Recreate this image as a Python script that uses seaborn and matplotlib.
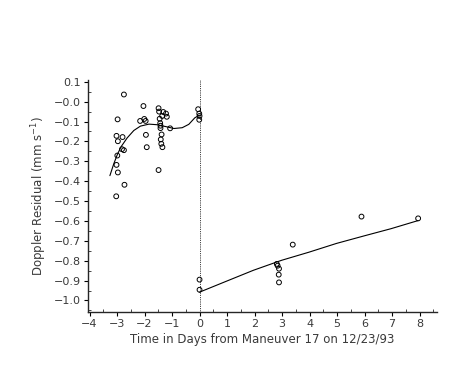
import numpy as np
import pandas as pd
import seaborn as sns
import matplotlib.pyplot as plt
from matplotlib.ticker import MultipleLocator

# residuals before the maneuver
pre_days = [-2.75, -2.98, -3.02, -2.97, -2.80, -2.82, -2.75, -2.99, -3.02, -2.97,
            -2.73, -3.03, -2.04, -2.16, -2.01, -1.96, -1.95, -1.92, -1.49, -1.47,
            -1.32, -1.22, -1.19, -1.36, -1.45, -1.43, -1.42, -1.42, -1.38, -1.41,
            -1.39, -1.35, -1.49, -1.07, -0.05, -0.01, 0.0, -0.01]
pre_resid = [0.036, -0.089, -0.172, -0.199, -0.178, -0.239, -0.244, -0.271, -0.318, -0.356,
             -0.418, -0.476, -0.022, -0.097, -0.087, -0.097, -0.167, -0.229, -0.033, -0.050,
             -0.052, -0.060, -0.076, -0.072, -0.086, -0.108, -0.121, -0.133, -0.165, -0.190,
             -0.212, -0.229, -0.344, -0.134, -0.038, -0.060, -0.072, -0.091]

# residuals after the maneuver
post_days = [0.0, 0.0, 2.81, 2.84, 2.89, 2.88, 2.89, 3.39, 5.89, 7.95]
post_resid = [-0.895, -0.946, -0.816, -0.825, -0.840, -0.870, -0.909, -0.719, -0.578, -0.587]

# fitted curves
fit_pre_days = [-3.26, -3.12, -2.99, -2.85, -2.63, -2.39, -2.15, -1.84, -1.54, -1.24,
                -0.93, -0.63, -0.39, -0.17, 0.0]
fit_pre_resid = [-0.372, -0.313, -0.266, -0.226, -0.182, -0.145, -0.123, -0.113, -0.116, -0.125,
                 -0.135, -0.131, -0.114, -0.081, -0.068]
fit_post_days = [0.0, 0.96, 1.96, 2.98, 3.98, 4.98, 5.96, 6.96, 7.95]
fit_post_resid = [-0.958, -0.904, -0.848, -0.798, -0.757, -0.713, -0.676, -0.639, -0.598]

sns.set_style("ticks")
plt.rcParams['font.family'] = ['DejaVu Sans']
txt = '#3a3a3a'

fig = plt.figure(figsize=(4.69, 3.66), dpi=100)
ax = fig.add_axes([0.188, 0.148, 0.744, 0.634])

pts = pd.DataFrame({"day": pre_days + post_days, "resid": pre_resid + post_resid})
sns.scatterplot(data=pts, x="day", y="resid", ax=ax, marker="o", s=12,
                facecolor="none", edgecolor="black", linewidth=0.7, zorder=3)
sns.lineplot(x=fit_pre_days, y=fit_pre_resid, ax=ax, color="black", lw=0.8, sort=False)
sns.lineplot(x=fit_post_days, y=fit_post_resid, ax=ax, color="black", lw=0.8, sort=False)
ax.axvline(0, color="black", lw=0.6, ls=(0, (1, 1.2)))

ax.set_xlim(-4.05, 8.64)
ax.set_ylim(-1.057, 0.11)
ax.xaxis.set_major_locator(MultipleLocator(1))
ax.xaxis.set_minor_locator(MultipleLocator(0.5))
ax.yaxis.set_major_locator(MultipleLocator(0.1))
ax.yaxis.set_minor_locator(MultipleLocator(0.05))
ax.set_yticks(np.round(np.arange(-1.0, 0.11, 0.1), 1))
ax.set_yticklabels([f"{v:.1f}".replace("-", "\u2212") for v in np.round(np.arange(-1.0, 0.11, 0.1), 1)])
ax.set_xticks(range(-4, 9))
ax.set_xticklabels([str(v).replace("-", "\u2212") for v in range(-4, 9)])
ax.tick_params(which="major", direction="out", length=3, width=0.8, labelsize=8, colors="black",
               labelcolor=txt, pad=2)
ax.tick_params(which="minor", direction="in", length=2.5, width=0.6)
for s in ["top", "right"]:
    ax.spines[s].set_visible(False)
for s in ["left", "bottom"]:
    ax.spines[s].set_linewidth(1.0)

ax.set_xlabel("Time in Days from Maneuver 17 on 12/23/93", fontsize=8.5, color=txt, labelpad=3)
ax.set_ylabel("Doppler Residual (mm s$^{-1}$)", fontsize=8.5, color=txt, labelpad=4)

fig.savefig("out.png", dpi=100)
